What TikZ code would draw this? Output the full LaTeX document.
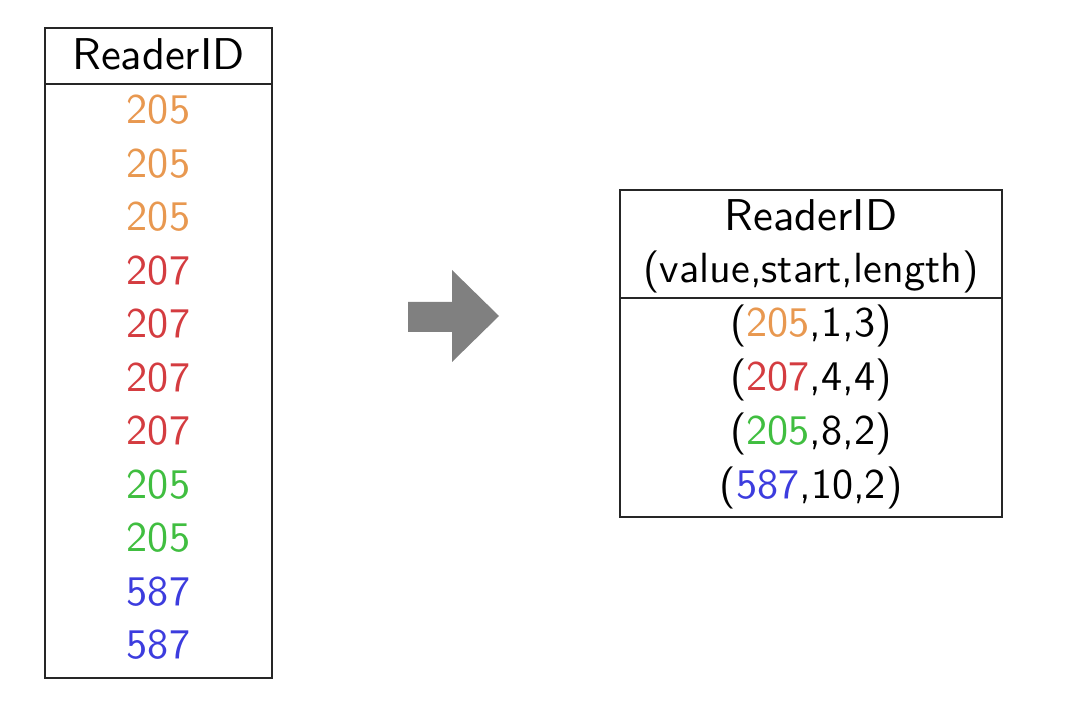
\documentclass[tikz,border=0pt]{standalone}
\usepackage{fontspec}
\setsansfont{lmsans10-regular.otf}
\usepackage{tikz}

\definecolor{runorange}{RGB}{232,152,80}
\definecolor{runred}{RGB}{212,60,64}
\definecolor{rungreen}{RGB}{64,190,64}
\definecolor{runblue}{RGB}{60,60,222}

\tikzset{
  cell/.style={font=\sffamily\fontsize{36}{42}\selectfont, inner sep=0pt},
  headcell/.style={font=\sffamily\fontsize{38}{44}\selectfont, inner sep=0pt},
  tableline/.style={draw=black!85, line width=0.9pt}
}

\begin{document}
\begin{tikzpicture}[x=0.03cm,y=-0.03cm]
\useasboundingbox (0,0) rectangle (1069,713);

% plain column
\draw[tableline] (45,28) rectangle (272,678);
\draw[tableline] (45,84) -- (272,84);
\node[headcell] (lhead) at (158.5,54) {ReaderID};
\node[cell, runorange] (l1) at (158.5,110) {205};
\node[cell, runorange] (l2) at (158.5,163.5) {205};
\node[cell, runorange] (l3) at (158.5,217) {205};
\node[cell, runred] (l4) at (158.5,270.5) {207};
\node[cell, runred] (l5) at (158.5,324) {207};
\node[cell, runred] (l6) at (158.5,377.5) {207};
\node[cell, runred] (l7) at (158.5,431) {207};
\node[cell, rungreen] (l8) at (158.5,484.5) {205};
\node[cell, rungreen] (l9) at (158.5,538) {205};
\node[cell, runblue] (l10) at (158.5,591.5) {587};
\node[cell, runblue] (l11) at (158.5,645) {587};

% block arrow
\fill[black!50] (408,302) -- (452,302) -- (452,270) -- (499,316)
  -- (452,362) -- (452,332) -- (408,332) -- cycle;

% run-length column
\draw[tableline] (620,190) rectangle (1002,517);
\draw[tableline] (620,298) -- (1002,298);
\node[headcell] (rhead) at (811,215) {ReaderID};
\node[cell] (rsub) at (811,272) {(value,start,length)};
\node[cell] (r1) at (811,326) {(\textcolor{runorange}{205},1,3)};
\node[cell] (r2) at (811,380) {(\textcolor{runred}{207},4,4)};
\node[cell] (r3) at (811,434) {(\textcolor{rungreen}{205},8,2)};
\node[cell] (r4) at (811,488) {(\textcolor{runblue}{587},10,2)};

\end{tikzpicture}
\end{document}
